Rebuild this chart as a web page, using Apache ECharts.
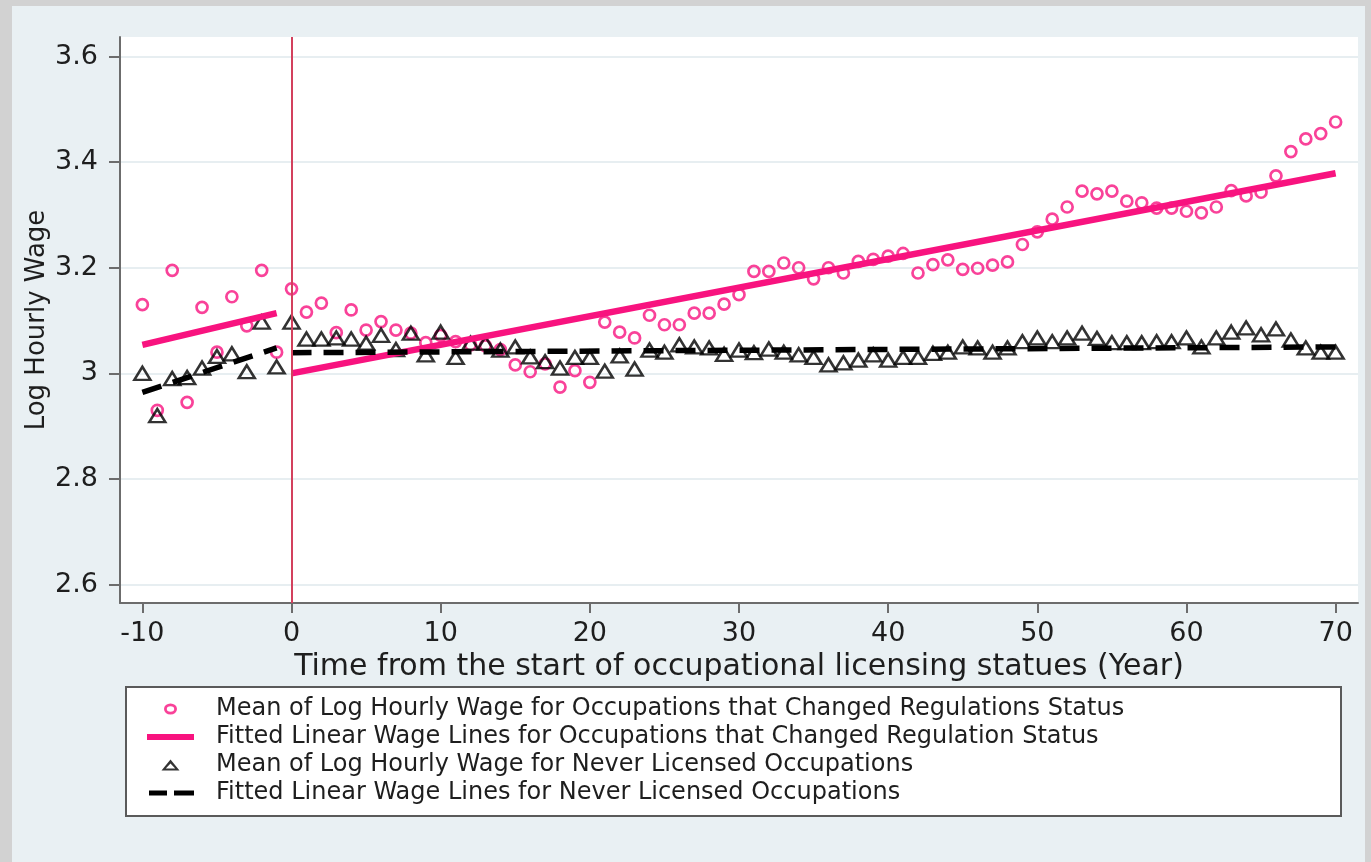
<!DOCTYPE html>
<html>
<head>
<meta charset="utf-8">
<title>Log Hourly Wage</title>
<script src="https://cdn.jsdelivr.net/npm/echarts@6/dist/echarts.min.js"></script>
<style>
  html, body { margin: 0; padding: 0; background: #d2d2d2; }
  #panel { position: absolute; left: 12px; top: 6px; width: 1353px; height: 856px; background: #e9f0f3; }
  #main { position: absolute; left: 0; top: 0; width: 1371px; height: 862px; }
</style>
</head>
<body>
<div id="panel"></div>
<div id="main"></div>
<script>
// years relative to the start of licensing statutes
const years = [];
for (let y = -10; y <= 70; y++) years.push(y);

// mean log hourly wage, occupations that changed regulation status
const changedMean = [
  3.130, 2.930, 3.195, 2.945, 3.125, 3.040, 3.145, 3.090, 3.195, 3.040,
  3.160, 3.116, 3.133, 3.077, 3.120, 3.082, 3.098, 3.082, 3.076, 3.058,
  3.072, 3.060, 3.054, 3.052, 3.045, 3.016, 3.003, 3.018, 2.974, 3.005,
  2.983, 3.097, 3.078, 3.067, 3.110, 3.092, 3.092, 3.114, 3.114, 3.131,
  3.149, 3.193, 3.193, 3.209, 3.200, 3.179, 3.200, 3.190, 3.212, 3.216,
  3.222, 3.227, 3.190, 3.206, 3.215, 3.197, 3.199, 3.205, 3.211, 3.244,
  3.268, 3.292, 3.315, 3.345, 3.340, 3.345, 3.326, 3.323, 3.313, 3.313,
  3.307, 3.304, 3.315, 3.346, 3.336, 3.343, 3.374, 3.420, 3.444, 3.454,
  3.476
];

// mean log hourly wage, never licensed occupations
const neverMean = [
  3.000, 2.920, 2.990, 2.992, 3.010, 3.032, 3.037, 3.003, 3.097, 3.012,
  3.097, 3.065, 3.065, 3.067, 3.065, 3.057, 3.072, 3.045, 3.076, 3.035,
  3.078, 3.030, 3.057, 3.057, 3.044, 3.050, 3.031, 3.022, 3.010, 3.030,
  3.030, 3.004, 3.033, 3.008, 3.044, 3.040, 3.054, 3.050, 3.048, 3.036,
  3.044, 3.039, 3.046, 3.040, 3.035, 3.030, 3.016, 3.020, 3.025, 3.035,
  3.025, 3.030, 3.030, 3.038, 3.040, 3.050, 3.048, 3.040, 3.048, 3.060,
  3.067, 3.060, 3.067, 3.076, 3.066, 3.058, 3.058, 3.058, 3.060, 3.060,
  3.067, 3.050, 3.067, 3.078, 3.086, 3.073, 3.084, 3.063, 3.048, 3.040,
  3.040
];

// fitted lines: before and after the statute
const preYears = [-10, -1];
const postYears = [0, 70];
const changedFitPre = [3.054, 3.114];
const changedFitPost = [3.000, 3.379];
const neverFitPre = [2.964, 3.048];
const neverFitPost = [3.039, 3.050];

const xTicks = [-10, 0, 10, 20, 30, 40, 50, 60, 70];
const yTicks = [2.6, 2.8, 3, 3.2, 3.4, 3.6];

const names = [
  'Mean of Log Hourly Wage for Occupations that Changed Regulations Status',
  'Fitted Linear Wage Lines for Occupations that Changed Regulation Status',
  'Mean of Log Hourly Wage for Never Licensed Occupations',
  'Fitted Linear Wage Lines for Never Licensed Occupations'
];

const pink = '#f8137f';
const font = 'DejaVu Sans';

// legend icons drawn in a 47x14 box (corner moves fix the box size)
const box = 'M0,0 M47,14 ';
const icons = [
  box + 'M17,7 A6.5,5.5 0 1,0 30,7 A6.5,5.5 0 1,0 17,7 Z M19.8,7 A3.7,2.8 0 1,1 27.2,7 A3.7,2.8 0 1,1 19.8,7 Z',
  box + 'M0,4 H47 V10 H0 Z',
  box + 'M23.5,1.5 L32.5,12.5 L14.5,12.5 Z M23.5,5.4 L18.8,10.6 L28.2,10.6 Z',
  box + 'M2,4.5 H20 V9.5 H2 Z M27,4.5 H47 V9.5 H27 Z'
];
const iconColors = [pink, pink, '#000000', '#000000'];

function pairs(xs, ys) {
  return xs.map((x, i) => [x, ys[i]]);
}

let chart = echarts.init(document.getElementById('main'));
let option = {
  animation: false,
  textStyle: { fontFamily: font },
  grid: {
    left: 120, top: 37, right: 13, bottom: 259,
    show: true, backgroundColor: '#ffffff', borderWidth: 0
  },
  xAxis: {
    type: 'value',
    min: -11.5,
    max: 71.5,
    name: 'Time from the start of occupational licensing statues (Year)',
    nameLocation: 'middle',
    nameGap: 38,
    nameTextStyle: { fontSize: 30, color: '#1e1e1e', fontFamily: font },
    axisLine: { show: true, onZero: false, lineStyle: { color: '#6c6c6c', width: 2 } },
    axisTick: { show: true, customValues: xTicks, length: 10, lineStyle: { color: '#6c6c6c', width: 2 } },
    axisLabel: { customValues: xTicks, fontSize: 27, color: '#1e1e1e', margin: 17, fontFamily: font },
    splitLine: { show: false }
  },
  yAxis: {
    type: 'value',
    min: 2.565,
    max: 3.637,
    name: 'Log Hourly Wage',
    nameLocation: 'middle',
    nameRotate: 90,
    nameGap: 70,
    nameMoveOverlap: false,
    nameTextStyle: { fontSize: 26, color: '#1e1e1e', fontFamily: font },
    axisLine: { show: true, onZero: false, lineStyle: { color: '#6c6c6c', width: 2 } },
    axisTick: { show: true, customValues: yTicks, length: 11, lineStyle: { color: '#6c6c6c', width: 2 } },
    axisLabel: { customValues: yTicks, fontSize: 27, color: '#1e1e1e', margin: 22, fontFamily: font },
    splitLine: { show: true, lineStyle: { color: '#e7eef1', width: 2 } }
  },
  legend: {
    orient: 'vertical',
    left: 142,
    top: 692,
    padding: 5,
    itemWidth: 47,
    itemHeight: 14,
    itemGap: 4,
    itemStyle: { borderWidth: 0 },
    textStyle: { fontSize: 24, color: '#1e1e1e', fontFamily: font, padding: [0, 0, 0, 17] },
    data: names.map((n, i) => ({
      name: n,
      icon: 'path://' + icons[i],
      itemStyle: { color: iconColors[i], borderWidth: 0 }
    }))
  },
  graphic: [
    {
      type: 'rect',
      left: 125, top: 686, z: 1,
      shape: { width: 1215, height: 129 },
      style: { fill: '#ffffff', stroke: '#5a5a5a', lineWidth: 2 }
    }
  ],
  series: [
    {
      name: names[0],
      type: 'scatter',
      symbol: 'circle',
      symbolSize: 11,
      itemStyle: { color: 'rgba(255,255,255,0)', borderColor: pink, borderWidth: 2.7 },
      data: pairs(years, changedMean),
      markLine: {
        silent: true,
        symbol: ['none', 'none'],
        label: { show: false },
        lineStyle: { color: '#d3405d', type: 'solid', width: 2 },
        data: [{ xAxis: 0 }]
      }
    },
    {
      name: names[1],
      type: 'line',
      symbol: 'none',
      itemStyle: { color: pink },
      lineStyle: { color: pink, width: 6.5 },
      data: pairs(preYears, changedFitPre)
    },
    {
      name: names[1],
      type: 'line',
      symbol: 'none',
      itemStyle: { color: pink },
      lineStyle: { color: pink, width: 6.5 },
      data: pairs(postYears, changedFitPost)
    },
    {
      name: names[2],
      type: 'scatter',
      symbol: 'triangle',
      symbolSize: [16, 13],
      itemStyle: { color: 'rgba(255,255,255,0)', borderColor: '#000000', borderWidth: 2.5 },
      data: pairs(years, neverMean)
    },
    {
      name: names[3],
      type: 'line',
      symbol: 'none',
      itemStyle: { color: '#000000' },
      lineStyle: { color: '#000000', width: 5.5, type: [20, 12] },
      data: pairs(preYears, neverFitPre)
    },
    {
      name: names[3],
      type: 'line',
      symbol: 'none',
      itemStyle: { color: '#000000' },
      lineStyle: { color: '#000000', width: 5.5, type: [20, 12] },
      data: pairs(postYears, neverFitPost)
    }
  ]
};

option && chart.setOption(option);
</script>
</body>
</html>
